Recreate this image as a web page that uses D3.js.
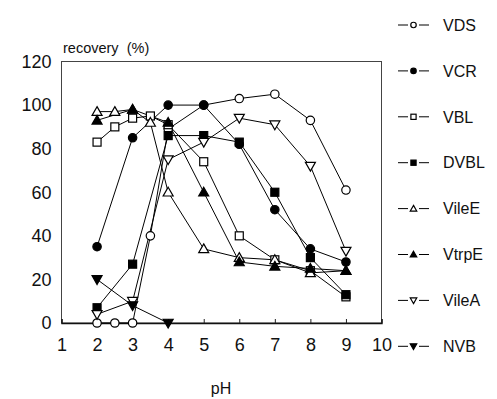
<!DOCTYPE html>
<html><head><meta charset="utf-8">
<script src="https://cdn.jsdelivr.net/npm/d3@7"></script>
<style>body{margin:0;background:#fff}svg{display:block}text{font-family:"Liberation Sans",Arial,sans-serif;fill:#111}</style>
</head><body>
<script>
const seriesNames = ["VDS","VCR","VBL","DVBL","VileE","VtrpE","VileA","NVB"];
const VDS_x = [2,2.5,3,3.5,4,5,6,7,8,9];
const VDS_y = [0,0,0,40,89,100,103,105,93,61];
const VCR_x = [2,3,4,5,6,7,8,9];
const VCR_y = [35,85,100,100,82,52,34,28];
const VBL_x = [2,2.5,3,3.5,4,5,6,7,8,9];
const VBL_y = [83,90,94,95,91,74,40,29,24,12];
const DVBL_x = [2,3,4,5,6,7,8,9];
const DVBL_y = [7,27,86,86,83,60,30,13];
const VileE_x = [2,2.5,3,3.5,4,5,6,7,8,9];
const VileE_y = [97,97,98,92,60,34,30,29,23,24];
const VtrpE_x = [2,3,4,5,6,7,8,9];
const VtrpE_y = [93,98,92,60,28,26,25,24];
const VileA_x = [2,3,4,5,6,7,8,9];
const VileA_y = [4,10,75,83,94,91,72,33];
const NVB_x = [2,3,4];
const NVB_y = [20,8,0];
const xTicks = [1,2,3,4,5,6,7,8,9,10];
const yTicks = [0,20,40,60,80,100,120];

const markers = {VDS:["circle",false],VCR:["circle",true],VBL:["square",false],DVBL:["square",true],
  VileE:["triangle",false],VtrpE:["triangle",true],VileA:["down",false],NVB:["down",true]};
const dataX = {VDS:VDS_x,VCR:VCR_x,VBL:VBL_x,DVBL:DVBL_x,VileE:VileE_x,VtrpE:VtrpE_x,VileA:VileA_x,NVB:NVB_x};
const dataY = {VDS:VDS_y,VCR:VCR_y,VBL:VBL_y,DVBL:DVBL_y,VileE:VileE_y,VtrpE:VtrpE_y,VileA:VileA_y,NVB:NVB_y};

const W=497,H=399;
const svg = d3.select("body").append("svg").attr("width",W).attr("height",H);
const x = d3.scaleLinear().domain([1,10]).range([61.5,381.5]);
const y = d3.scaleLinear().domain([0,120]).range([323,61.5]);

// frame
svg.append("rect").attr("x",x(1)).attr("y",y(120)).attr("width",x(10)-x(1)).attr("height",y(0)-y(120))
  .attr("fill","none").attr("stroke","#444").attr("stroke-width",1);

// x axis
const xAxis = d3.axisBottom(x).tickValues(xTicks).tickSize(-4).tickPadding(19).tickFormat(d3.format("d"));
const gx = svg.append("g").attr("transform",`translate(0,${y(0)})`).call(xAxis);
gx.select(".domain").attr("stroke","#111").attr("stroke-width",1.4);
gx.selectAll(".tick line").attr("stroke","#222");
gx.selectAll(".tick text").attr("font-size",18).attr("fill","#111").attr("dy","0.5em");

// y axis
const yAxis = d3.axisLeft(y).tickValues(yTicks).tickSize(0).tickPadding(10);
const gy = svg.append("g").attr("transform",`translate(${x(1)},0)`).call(yAxis);
gy.select(".domain").remove();
gy.selectAll(".tick text").attr("font-size",18).attr("fill","#111");

svg.append("text").attr("x",63).attr("y",53).attr("font-size",14.5).text("recovery\u00a0\u00a0(%)");
svg.append("text").attr("x",221).attr("y",394).attr("font-size",16).attr("text-anchor","middle").text("pH");

function drawMarker(g, type, filled, cx, cy, s) {
  const fill = filled ? "#000" : "#fff";
  let el;
  if (type==="circle") el = g.append("circle").attr("cx",cx).attr("cy",cy).attr("r",4.2*s);
  else if (type==="square") el = g.append("rect").attr("x",cx-4*s).attr("y",cy-4*s).attr("width",8*s).attr("height",8*s);
  else if (type==="triangle") { const a=5*s; el = g.append("path").attr("d",`M${cx},${cy-a}L${cx+a},${cy+a*0.75}L${cx-a},${cy+a*0.75}Z`); }
  else { const a=5*s; el = g.append("path").attr("d",`M${cx},${cy+a}L${cx+a},${cy-a*0.75}L${cx-a},${cy-a*0.75}Z`); }
  el.attr("fill",fill).attr("stroke","#000").attr("stroke-width",1.2);
}

const line = d3.line().x(d=>x(d[0])).y(d=>y(d[1]));
const gl = svg.append("g");
seriesNames.forEach(n=>{
  const pts = dataX[n].map((v,i)=>[v,dataY[n][i]]);
  gl.append("path").attr("d",line(pts)).attr("fill","none").attr("stroke","#000").attr("stroke-width",1);
});
const gm = svg.append("g");
seriesNames.forEach(n=>{
  const [t,f] = markers[n];
  dataX[n].forEach((v,i)=>drawMarker(gm,t,f,x(v),y(dataY[n][i]),1));
});

// legend
const lg = svg.append("g");
seriesNames.forEach((n,i)=>{
  const cy = 25 + i*45.9;
  lg.append("line").attr("x1",398).attr("x2",408).attr("y1",cy).attr("y2",cy).attr("stroke","#000").attr("stroke-width",1);
  lg.append("line").attr("x1",419).attr("x2",429).attr("y1",cy).attr("y2",cy).attr("stroke","#000").attr("stroke-width",1);
  const [t,f] = markers[n];
  drawMarker(lg,t,f,413.5,cy,0.65);
  lg.append("text").attr("x",443).attr("y",cy).attr("dy","0.36em").attr("font-size",16).text(n);
});
</script>
</body></html>
